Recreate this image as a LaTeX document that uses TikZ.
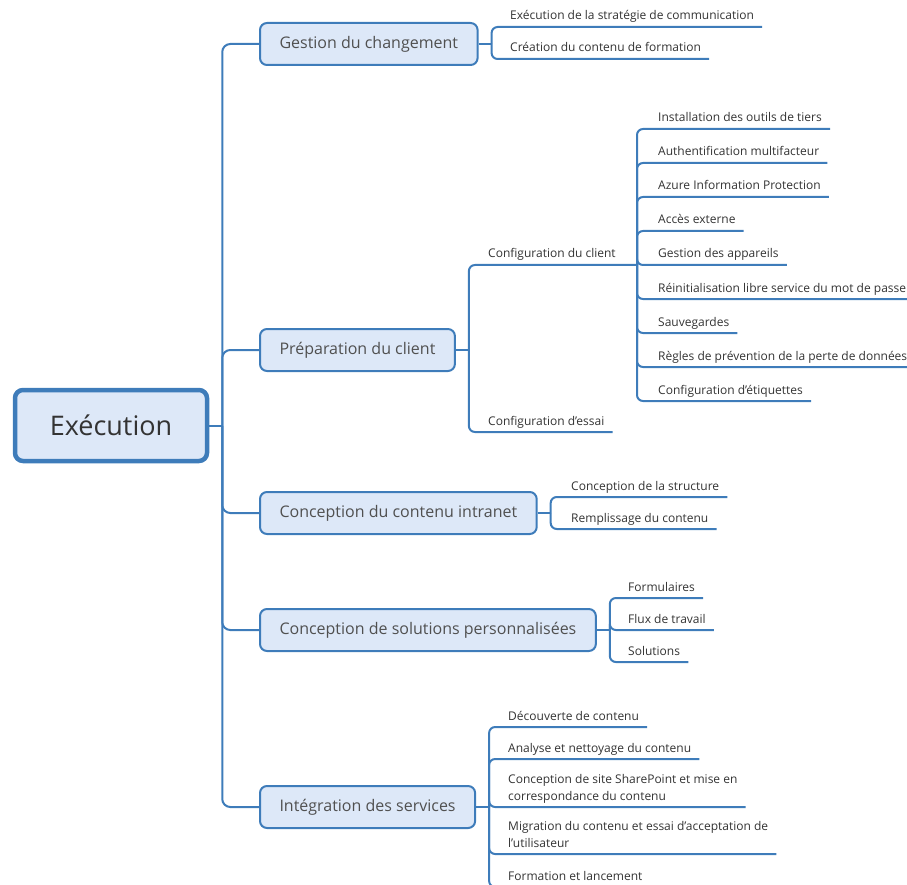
\documentclass[tikz,border=0pt]{standalone}
\usepackage{fontspec}
\setmainfont{Open Sans}
\definecolor{mmline}{RGB}{62,124,186}
\definecolor{mmfill}{RGB}{221,232,248}
\definecolor{mmtext}{RGB}{51,51,51}
\definecolor{mmgray}{RGB}{80,80,80}

\begin{document}
\begin{tikzpicture}[
  x=1pt,y=-1pt,
  link/.style={draw=mmline,line width=2pt,rounded corners=6pt},
  rootbox/.style={draw=mmline,fill=mmfill,line width=4.5pt,rounded corners=8pt,
    minimum width=192pt,minimum height=71pt,inner sep=0pt,
    font=\fontsize{27}{32}\selectfont,text=mmtext},
  topic/.style={draw=mmline,fill=mmfill,line width=2pt,rounded corners=7pt,
    anchor=west,minimum height=42pt,inner xsep=19.5pt,inner ysep=0pt,
    font=\fontsize{16}{19}\selectfont,text=mmgray},
  leaf/.style={anchor=base west,inner sep=0pt,align=left,
    font=\fontsize{12}{17}\selectfont,text=mmtext},
]
  \useasboundingbox (0,0) rectangle (907,885);
  \clip (0,0) rectangle (907,885);
  % Central topic
  \node[rootbox] (exec) at (111,425.5) {Exécution};
  \coordinate (tj) at ([xshift=13pt]exec.east);
  \draw[link] (exec.east) -- (tj);
  % Main branches
  \node[topic] (gest)  at (259,44)  {Gestion du changement};
  \node[topic] (prep)  at (259,350) {Préparation du client};
  \node[topic] (intra) at (259,513) {Conception du contenu intranet};
  \node[topic] (sol)   at (259,630) {Conception de solutions personnalisées};
  \node[topic] (integ) at (259,807) {Intégration des services};
  \foreach \t in {gest,prep,intra,sol,integ}
    \draw[link,rounded corners=8pt] (tj) |- (\t.west);
  % Gestion du changement
  \coordinate (gj) at ([xshift=13pt]gest.east);
  \draw[link] (gest.east) -- (gj);
  \foreach \txt/\ly/\nm in {Exécution de la stratégie de communication/27/gcom,
      Création du contenu de formation/59/gform}{
    \node[leaf] (\nm) at (510,\ly-7) {\txt};
    \draw[link] (gj) |- ([shift={(8,7)}]\nm.base east);
  }
  % Préparation du client
  \coordinate (pj) at ([xshift=13pt]prep.east);
  \draw[link] (prep.east) -- (pj);
  \node[leaf] (pcli) at (488,265-7) {Configuration du client};
  \node[leaf] (pess) at (488,432-7) {Configuration d’essai};
  \coordinate (cj) at (637,265);
  \draw[link] (pj) |- (cj);
  \draw[link] (pj) |- ([shift={(8,7)}]pess.base east);
  % Configuration du client
  \foreach \txt/\ly/\nm in {Installation des outils de tiers/129/cout,
      Authentification multifacteur/163/cauth,
      Azure Information Protection/197/cazur,
      Accès externe/231/cacc,
      Gestion des appareils/265/capp,
      Réinitialisation libre service du mot de passe/299/crei,
      Sauvegardes/333/csav,
      Règles de prévention de la perte de données/367/creg,
      Configuration d’étiquettes/401/ceti}{
    \node[leaf] (\nm) at (658,\ly-7) {\txt};
    \draw[link] (cj) |- ([shift={(8,7)}]\nm.base east);
  }
  % Conception du contenu intranet
  \coordinate (ij) at ([xshift=13pt]intra.east);
  \draw[link] (intra.east) -- (ij);
  \foreach \txt/\ly/\nm in {Conception de la structure/497/istr,
      Remplissage du contenu/529/irem}{
    \node[leaf] (\nm) at (571,\ly-7) {\txt};
    \draw[link] (ij) |- ([shift={(8,7)}]\nm.base east);
  }
  % Conception de solutions personnalisées
  \coordinate (sj) at ([xshift=13pt]sol.east);
  \draw[link] (sol.east) -- (sj);
  \foreach \txt/\ly/\nm in {Formulaires/598/sfor,
      Flux de travail/630/sflu,
      Solutions/662/ssol}{
    \node[leaf] (\nm) at (628,\ly-7) {\txt};
    \draw[link] (sj) |- ([shift={(8,7)}]\nm.base east);
  }
  % Intégration des services
  \coordinate (nj) at ([xshift=13pt]integ.east);
  \draw[link] (integ.east) -- (nj);
  \foreach \txt/\ly/\nm in {Découverte de contenu/727/ndec,
      Analyse et nettoyage du contenu/759/nana,
      {Conception de site SharePoint et mise en\\correspondance du contenu}/807/nsha,
      {Migration du contenu et essai d’acceptation de\\l’utilisateur}/854/nmig,
      Formation et lancement/887/nfor}{
    \node[leaf] (\nm) at (508,\ly-7) {\txt};
    \draw[link] (nj) |- ([shift={(8,7)}]\nm.base east);
  }
\end{tikzpicture}
\end{document}
